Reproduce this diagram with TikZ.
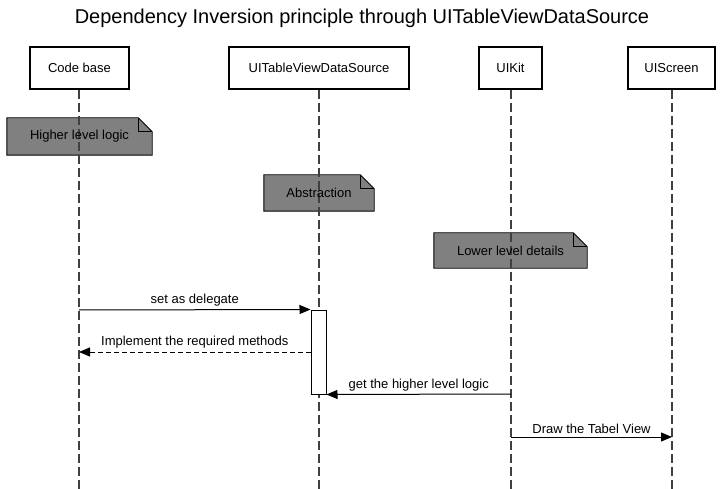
\documentclass[tikz,border=0pt]{standalone}
\usepackage{fontspec}
\setmainfont{Liberation Sans}
\usetikzlibrary{arrows.meta,calc,backgrounds}
\definecolor{notegray}{HTML}{808080}
\tikzset{
  x=1pt, y=-1pt,
  actor/.style={draw, line width=2pt, fill=white, minimum height=42pt, inner sep=0pt, font=\fontsize{13}{15}\selectfont},
  lifeline/.style={draw=black!75, line width=1.2pt, dash pattern=on 9pt off 4pt},
  notebox/.style={inner sep=0pt, font=\fontsize{13}{15}\selectfont},
  noteshape/.style={draw=black, fill=notegray, line width=0.9pt, line join=miter},
  msg/.style={line width=1pt, -{Triangle[length=11pt,width=9pt]}},
  reply/.style={line width=1pt, dash pattern=on 5pt off 3pt, -{Triangle[length=11pt,width=9pt]}},
  lbl/.style={font=\fontsize{13}{15}\selectfont, inner sep=1pt, above=2pt, midway},
  actbox/.style={draw, fill=white, line width=1pt, inner sep=0pt},
}
\begin{document}
\begin{tikzpicture}
\useasboundingbox (0,0) rectangle (723,489);
\node[font=\fontsize{20}{24}\selectfont] (title) at (362,18) {Dependency Inversion principle through UITableViewDataSource};

% actors
\node[actor, minimum width=99pt] (cb) at (79.5,68) {Code base};
\node[actor, minimum width=180pt] (ds) at (319,68) {UITableViewDataSource};
\node[actor, minimum width=63pt] (uk) at (510.5,68) {UIKit};
\node[actor, minimum width=87pt] (us) at (671.5,68) {UIScreen};

% lifeline ends
\coordinate (cbend) at (79,489);
\coordinate (dsend) at (319,489);
\coordinate (ukend) at (511,489);
\coordinate (usend) at (672,489);
\draw[lifeline] (cb.south -| cbend) -- (cbend);
\draw[lifeline] (ds.south -| dsend) -- (dsend);
\draw[lifeline] (uk.south -| ukend) -- (ukend);
\draw[lifeline] (us.south -| usend) -- (usend);

% notes
\node[notebox, minimum width=145pt, minimum height=37pt] (n1) at (79.5,136.5) {Higher level logic};
\node[notebox, minimum width=110pt, minimum height=36pt] (n2) at (319,193) {Abstraction};
\node[notebox, minimum width=153pt, minimum height=35pt] (n3) at (510.5,250.5) {Lower level details};
\begin{scope}[on background layer]
\foreach \n in {n1,n2,n3}{
  \draw[noteshape] (\n.north west) -- ($(\n.north east)+(-14,0)$) -- ($(\n.north east)+(0,14)$) -- (\n.south east) -- (\n.south west) -- cycle;
  \draw[line width=0.9pt] ($(\n.north east)+(-14,0)$) -- ($(\n.north east)+(-14,14)$) -- ($(\n.north east)+(0,14)$);
}
\end{scope}

% activation
\node[actbox, minimum width=15pt, minimum height=84pt] (act) at (318.5,352) {};

% message anchor points
\coordinate (cb1) at (79,310);
\coordinate (cb2) at (79,352);
\coordinate (uk1) at (511,394);
\coordinate (uk2) at (511,437);
\coordinate (us1) at (672,437);

\draw[msg] (cb1) -- (act.north west) node[lbl] {set as delegate};
\draw[reply] (act.west |- cb2) -- (cb2) node[lbl] {Implement the required methods};
\draw[msg] (uk1) -- (act.south east) node[lbl] {get the higher level logic};
\draw[msg] (uk2) -- (us1) node[lbl] {Draw the Tabel View};
\end{tikzpicture}
\end{document}
